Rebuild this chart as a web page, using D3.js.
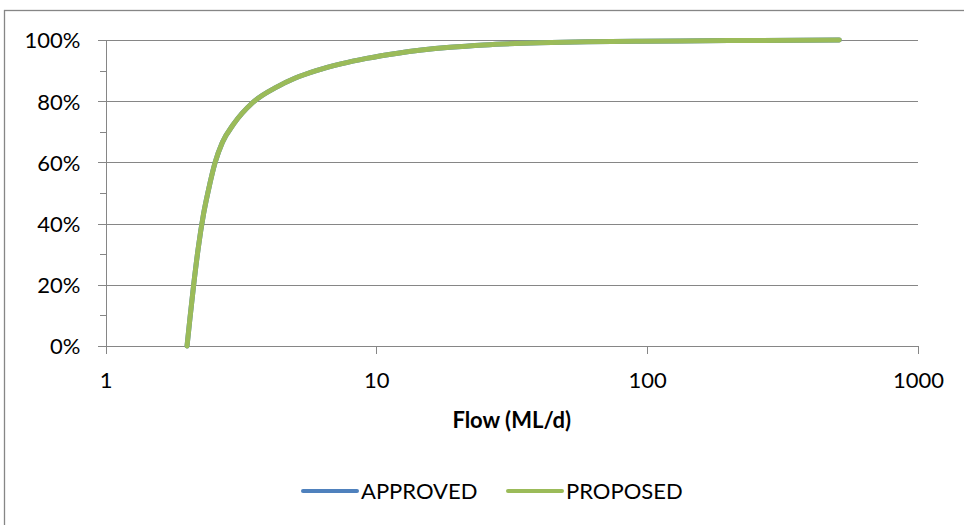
<!DOCTYPE html>
<html>
<head>
<meta charset="utf-8">
<script src="https://cdnjs.cloudflare.com/ajax/libs/d3/7.8.5/d3.min.js"></script>
<style>
  body { margin: 0; background: #fff; }
  text { font-family: Lato, "Open Sans", sans-serif; fill: #000; }
</style>
</head>
<body>
<div id="chart"></div>
<script>
// flow duration curve
var flowValues = [2.0, 2.05, 2.11, 2.2, 2.3, 2.4, 2.54, 2.7, 2.97, 3.49, 4.3, 5.0, 6.0, 7.4, 9.2, 12, 18.7, 25, 40, 60, 94, 200, 512];
var approvedPct = [0, 0.09, 0.19, 0.32, 0.43, 0.51, 0.60, 0.665, 0.725, 0.795, 0.847, 0.875, 0.90, 0.922, 0.94, 0.957, 0.976, 0.984, 0.991, 0.994, 0.996, 0.998, 1.0];
var proposedPct = [0, 0.09, 0.19, 0.32, 0.43, 0.51, 0.60, 0.665, 0.725, 0.795, 0.847, 0.875, 0.90, 0.922, 0.94, 0.957, 0.976, 0.984, 0.991, 0.994, 0.996, 0.998, 1.0];
var seriesNames = ["APPROVED", "PROPOSED"];
var seriesColors = ["#4F81BD", "#9BBB59"];
var xTicks = [1, 10, 100, 1000];
var yTicks = [0, 0.2, 0.4, 0.6, 0.8, 1.0];
var yMinorTicks = [0.1, 0.3, 0.5, 0.7, 0.9];

var svgWidth = 964;
var svgHeight = 525;
var margin = {
    top: 40,
    right: 46,
    bottom: 179,
    left: 105.5
};

var width = svgWidth - margin.left - margin.right;
var height = svgHeight - margin.top - margin.bottom;

var svg = d3.select("#chart")
    .append("svg")
    .attr("width", svgWidth)
    .attr("height", svgHeight);

// outer chart frame (runs off the bottom/right of the picture)
svg.append("rect")
    .attr("x", 4.5)
    .attr("y", 10.5)
    .attr("width", 1100)
    .attr("height", 700)
    .attr("fill", "none")
    .attr("stroke", "#868686")
    .attr("stroke-width", 1.3);

var chartGroup = svg.append("g")
    .attr("transform", `translate(${margin.left},${margin.top})`);

var xLogScale = d3.scaleLog()
    .domain([1, 1000])
    .range([0, width]);

var yLinearScale = d3.scaleLinear()
    .domain([0, 1])
    .range([height, 0]);

// gridlines (extend 8px left as the major ticks)
var grid = chartGroup.append("g")
    .attr("class", "grid")
    .call(d3.axisLeft(yLinearScale).tickValues(yTicks).tickSize(-width - 8).tickFormat(""))
    .attr("transform", "translate(-8,0)");
grid.select(".domain").remove();
grid.selectAll("line")
    .attr("x1", 0)
    .attr("x2", width + 8)
    .attr("stroke", "#868686")
    .attr("shape-rendering", "crispEdges");

// minor ticks on the y axis
var minor = chartGroup.append("g")
    .call(d3.axisLeft(yLinearScale).tickValues(yMinorTicks).tickSize(6).tickFormat(""));
minor.select(".domain").remove();
minor.selectAll("line").attr("stroke", "#868686").attr("shape-rendering", "crispEdges");

// y axis with labels
var leftAxis = d3.axisLeft(yLinearScale)
    .tickValues(yTicks)
    .tickSize(8)
    .tickSizeOuter(0)
    .tickFormat(d3.format(".0%"));

var yAxis = chartGroup.append("g").call(leftAxis);
yAxis.select(".domain").attr("stroke", "#868686").attr("shape-rendering", "crispEdges");
yAxis.selectAll("line").attr("stroke", "#868686").attr("shape-rendering", "crispEdges");
yAxis.selectAll("text")
    .attr("x", -25)
    .attr("dy", "0.36em")
    .style("font-size", "22px")
    .style("font-family", "Lato, sans-serif")
    .attr("fill", "#000");

// x axis
var bottomAxis = d3.axisBottom(xLogScale)
    .tickValues(xTicks)
    .tickSize(8)
    .tickSizeOuter(0)
    .tickFormat(d3.format("d"));

var xAxis = chartGroup.append("g")
    .attr("transform", `translate(0,${height})`)
    .call(bottomAxis);
xAxis.select(".domain").attr("stroke", "#868686").attr("shape-rendering", "crispEdges");
xAxis.selectAll("line").attr("stroke", "#868686").attr("shape-rendering", "crispEdges");
xAxis.selectAll("text")
    .attr("y", 42)
    .attr("dy", 0)
    .style("font-size", "22px")
    .style("font-family", "Lato, sans-serif")
    .attr("fill", "#000");

// axis title
chartGroup.append("text")
    .attr("x", width / 2)
    .attr("y", height + 82)
    .attr("text-anchor", "middle")
    .style("font-size", "22px")
    .style("font-weight", "bold")
    .text("Flow (ML/d)");

// the two series (PROPOSED drawn on top, hides APPROVED)
var seriesData = [approvedPct, proposedPct];

var line = d3.line()
    .x((d, i) => xLogScale(flowValues[i]))
    .y(d => yLinearScale(d))
    .curve(d3.curveMonotoneX);

chartGroup.selectAll(".series")
    .data(seriesData)
    .enter()
    .append("path")
    .attr("class", "series")
    .attr("d", d => line(d))
    .attr("fill", "none")
    .attr("stroke", (d, i) => seriesColors[i])
    .attr("stroke-width", 5)
    .attr("stroke-linecap", "round")
    .attr("stroke-linejoin", "round");

// legend
var legendX = [303, 508];
var legend = svg.selectAll(".legend")
    .data(seriesNames)
    .enter()
    .append("g")
    .attr("class", "legend")
    .attr("transform", (d, i) => `translate(${legendX[i]},491)`);

legend.append("line")
    .attr("x1", 0)
    .attr("x2", 54)
    .attr("y1", 0)
    .attr("y2", 0)
    .attr("stroke", (d, i) => seriesColors[i])
    .attr("stroke-width", 4)
    .attr("stroke-linecap", "round");

legend.append("text")
    .attr("x", 58)
    .attr("y", 8)
    .style("font-size", "22px")
    .text(d => d);
</script>
</body>
</html>
